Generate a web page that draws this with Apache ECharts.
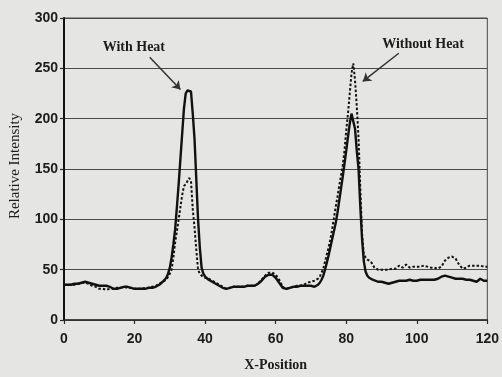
<!DOCTYPE html>
<html>
<head>
<meta charset="utf-8">
<script src="https://cdn.jsdelivr.net/npm/echarts@6/dist/echarts.min.js"></script>
<style>
  html, body { margin: 0; padding: 0; background: #e5e5e3; }
  #chart { width: 502px; height: 377px; }
</style>
</head>
<body>
<div id="chart"></div>
<script>
// x positions (finer steps through the two peaks)
const xPos = [
  0, 1, 2, 3, 4, 5, 6, 7, 8, 9, 10, 11, 12, 13, 14, 15, 16, 17, 18, 19, 20, 21, 22, 23, 24, 25, 26, 27, 28,
  28.5, 29, 29.5, 30, 30.5, 31, 31.5, 32, 32.5, 33, 33.5, 34, 34.5, 35, 35.5, 36, 36.5, 37, 37.5, 38, 38.5, 39, 39.5, 40,
  41, 42, 43, 44, 45, 46, 47, 48, 49, 50, 51, 52, 53, 54, 55, 56, 57, 58, 59, 60, 61, 62, 63, 64, 65, 66, 67, 68, 69, 70, 71, 72,
  72.5, 73, 73.5, 74, 74.5, 75, 75.5, 76, 76.5, 77, 77.5, 78, 78.5, 79, 79.5, 80, 80.5, 81, 81.5, 82, 82.5, 83, 83.5, 84, 84.5, 85, 85.5, 86, 86.5, 87, 87.5, 88,
  89, 90, 91, 92, 93, 94, 95, 96, 97, 98, 99, 100, 101, 102, 103, 104, 105, 106, 107, 108, 109, 110, 111, 112, 113, 114, 115, 116, 117, 118, 119, 120
];

const withHeat = [
  35, 35, 35, 36, 36, 37, 38, 37, 36, 35, 34, 34, 34, 33, 31, 31, 32, 33, 33, 32, 31, 31, 31, 31, 32, 32, 33, 35, 38,
  40, 42, 46, 52, 62, 75, 90, 112, 135, 160, 185, 210, 225, 228, 228, 227, 205, 180, 140, 100, 72, 52, 46, 43,
  40, 38, 36, 34, 32, 31, 32, 33, 33, 33, 33, 34, 34, 34, 36, 39, 43, 45, 45, 42, 37, 32, 31, 32, 33, 33, 34, 34, 34, 34, 33, 35,
  37, 40, 44, 50, 57, 64, 72, 80, 88, 96, 106, 118, 130, 142, 155, 168, 182, 195, 205, 205, 190, 168, 150, 112, 80, 58, 48, 44, 42, 41, 40, 39,
  38, 38, 37, 36, 37, 38, 39, 39, 39, 40, 39, 39, 40, 40, 40, 40, 40, 41, 43, 44, 43, 42, 41, 41, 41, 40, 40, 39, 38, 41, 39, 39
];

const withoutHeat = [
  35, 35, 35, 35, 36, 37, 37, 36, 34, 33, 31, 31, 30, 31, 31, 32, 32, 33, 32, 32, 31, 31, 31, 32, 32, 33, 34, 36, 38,
  39, 40, 43, 46, 50, 62, 77, 88, 100, 112, 124, 133, 135, 136, 141, 138, 110, 92, 70, 50, 46, 44, 43, 42,
  41, 39, 37, 35, 33, 31, 32, 33, 33, 33, 33, 34, 34, 34, 36, 40, 44, 47, 47, 45, 40, 33, 31, 32, 33, 34, 34, 35, 37, 38, 39, 41,
  43, 47, 51, 58, 65, 72, 80, 90, 101, 112, 122, 133, 143, 153, 168, 188, 205, 225, 245, 255, 238, 212, 180, 130, 85, 65, 62, 60, 59, 58, 55, 52,
  50, 50, 50, 50, 51, 51, 54, 52, 55, 52, 53, 53, 53, 54, 53, 52, 52, 51, 53, 59, 62, 63, 61, 55, 51, 52, 54, 54, 54, 54, 53, 53
];

const yTicks = [0, 50, 100, 150, 200, 250, 300];
const xTicks = [0, 20, 40, 60, 80, 100, 120];

// annotation anchors in data units
const labels = [
  { text: "With Heat", at: [19.8, 271] },
  { text: "Without Heat", at: [101.8, 274] }
];
const arrows = [
  { from: [24.3, 261], to: [33.0, 229] },
  { from: [94.9, 265], to: [84.7, 237] }
];

const ink = "#1c1c1c";
const gridColor = "#4a4a4a";
const serif = "'Liberation Serif', 'DejaVu Serif', serif";
const sans = "'Liberation Sans', Arial, sans-serif";

const chart = echarts.init(document.getElementById("chart"), null, { renderer: "canvas" });

chart.setOption({
  animation: false,
  backgroundColor: "#e5e5e3",
  grid: {
    left: 62, right: 10, top: 18, bottom: 57,
    show: true, borderColor: gridColor, borderWidth: 1, backgroundColor: "transparent"
  },
  xAxis: {
    type: "value",
    min: xTicks[0],
    max: xTicks[xTicks.length - 1],
    interval: 20,
    name: "X-Position",
    nameLocation: "middle",
    nameGap: 38,
    nameTextStyle: { color: ink, fontFamily: serif, fontWeight: "bold", fontSize: 14 },
    axisLine: { show: true, lineStyle: { color: "#2a2a2a", width: 1.5 } },
    axisTick: { show: true, length: 4, lineStyle: { color: "#2a2a2a", width: 1.2 } },
    axisLabel: { color: ink, fontFamily: sans, fontWeight: "bold", fontSize: 14, margin: 12 },
    splitLine: { show: false }
  },
  yAxis: {
    type: "value",
    min: yTicks[0],
    max: yTicks[yTicks.length - 1],
    interval: 50,
    name: "Relative Intensity",
    nameLocation: "middle",
    nameGap: 41,
    nameTextStyle: { color: ink, fontFamily: serif, fontSize: 15, padding: [0, 0, 0, 6] },
    axisLine: { show: true, lineStyle: { color: "#111", width: 2 } },
    axisTick: { show: true, length: 4, lineStyle: { color: "#2a2a2a", width: 1.2 } },
    axisLabel: { color: ink, fontFamily: sans, fontWeight: "bold", fontSize: 14, margin: 6 },
    splitLine: { show: true, lineStyle: { color: gridColor, width: 1.2 } }
  },
  series: [
    {
      name: "With Heat",
      type: "line",
      data: xPos.map((x, i) => [x, withHeat[i]]),
      showSymbol: false,
      lineStyle: { color: "#111", width: 2.4 },
      z: 3,
      markPoint: {
        symbol: "rect",
        symbolSize: 1,
        itemStyle: { color: "transparent" },
        label: {
          show: true,
          position: "inside",
          color: ink,
          fontFamily: serif,
          fontWeight: "bold",
          fontSize: 14,
          formatter: (p) => p.name
        },
        data: labels.map((l) => ({ name: l.text, coord: l.at }))
      },
      markLine: {
        silent: true,
        symbol: ["none", "arrow"],
        symbolSize: 8,
        label: { show: false },
        lineStyle: { color: "#333", width: 1.5, type: "solid" },
        data: arrows.map((a) => [{ coord: a.from }, { coord: a.to }])
      }
    },
    {
      name: "Without Heat",
      type: "line",
      data: xPos.map((x, i) => [x, withoutHeat[i]]),
      showSymbol: false,
      lineStyle: { color: "#111", width: 2, type: [2.5, 2] },
      z: 2
    }
  ]
});
</script>
</body>
</html>
